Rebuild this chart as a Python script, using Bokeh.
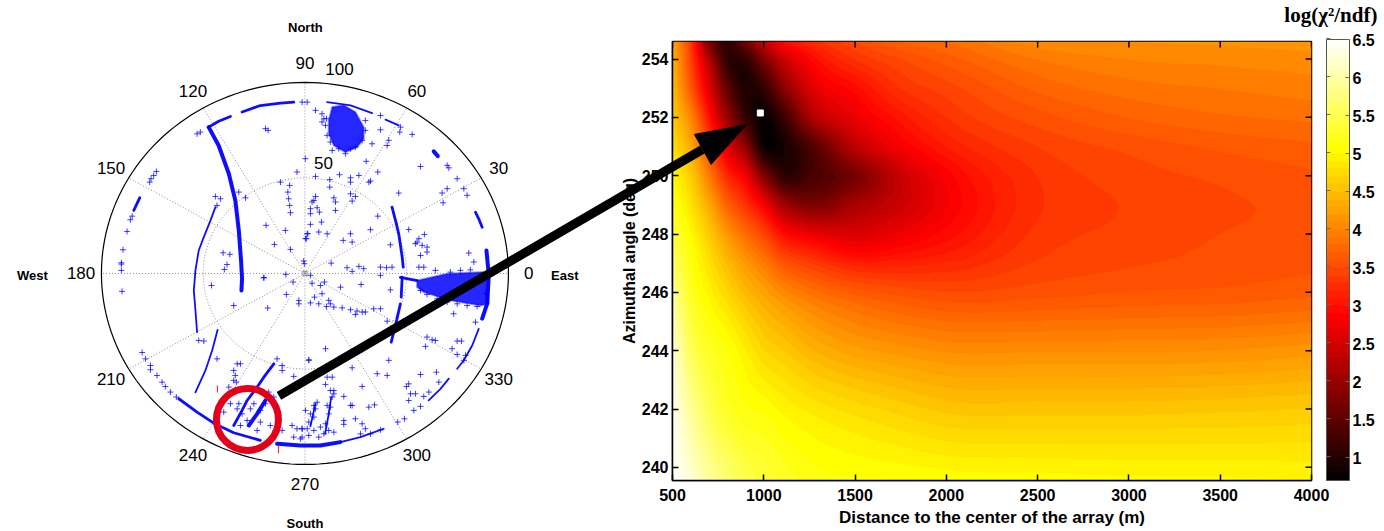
import numpy as np
from bokeh.embed import file_html
from bokeh.resources import INLINE
from bokeh.layouts import row
from bokeh.plotting import figure
from bokeh.core.properties import value
from bokeh.models import (Arrow, ColorBar, FixedTicker, LinearColorMapper,
                          NumeralTickFormatter, Range1d)

# ---- polar panel: event directions, east / north components ----
arc_upper_left = [(-47.3,76.6),(-42.4,67.0),(-37.4,52.2),(-34.2,38.2),(-32.5,22.5),(-31.4,6.8),(-30.9,-2.6),(-31.2,-8.9)]
arc_top_left_a = [(-30.9,84.5),(-21.9,87.9),(-12.0,89.2),(-5.5,89.7)]
arc_top_left_b = [(-47.3,76.6),(-42.4,79.7),(-36.6,82.2)]
arc_top_right_a = [(10.9,89.7),(22.4,88.0),(33.0,83.9)]
arc_top_right_b = [(39.6,80.5),(46.1,77.5)]
arc_top_right_c = [(63.3,63.9),(65.3,61.4)]
arc_right_a = [(83.8,32.1),(85.4,28.6),(87.1,24.2)]
arc_right_b = [(89.2,12.0),(90.3,-0.2),(90.3,-1.9),(89.5,-15.9),(87.1,-23.7)]
arc_right_c = [(85.4,-29.0),(82.2,-37.7),(78.0,-45.6),(74.8,-49.9)]
arc_right_d = [(70.7,-55.1),(66.6,-60.4),(60.8,-66.5)]
arc_bottom = [(-13.7,-89.2),(-2.2,-90.1),(7.6,-90.1),(17.4,-88.3)]
arc_bottom_thin = [(17.4,-88.3),(27.3,-85.7),(38.7,-81.3)]
arc_lower_left = [(-62.0,-65.6),(-53.0,-72.6),(-44.8,-78.4),(-35.0,-83.4),(-21.9,-87.4)]
arc_mid_left = [(-44.0,34.7),(-46.4,27.8),(-49.7,19.0),(-52.2,12.0),(-53.8,1.6),(-54.6,-8.9),(-53.8,-19.4),(-53.0,-30.7)]
arc_low_left = [(-42.9,-29.5),(-45.6,-40.3),(-48.9,-50.8),(-53.8,-62.2)]
arc_circle_a = [(-15.3,-47.3),(-20.2,-54.3),(-23.5,-59.5),(-28.4,-66.5),(-30.9,-71.7),(-35.0,-79.6)]
arc_circle_b = [(-19.4,-66.5),(-23.5,-73.5),(-27.6,-79.6)]
arc_mid_right_a = [(42.8,34.7),(44.5,27.8),(46.1,20.8),(47.8,8.5),(48.3,3.3)]
arc_mid_right_b = [(47.8,-1.9),(47.3,-12.4)]
arc_mid_right_c = [(46.9,-15.9),(44.5,-27.2),(42.4,-36.0)]
arc_far_left = [(-81.2,39.6),(-84.1,33.0)]
arc_bottom_b1 = [(12.9,-64.7),(11.7,-73.5),(9.9,-84.0)]
arc_bottom_b2 = [(5.2,-68.0),(2.7,-80.0)]
arc_east_tail = [(46.9,-2.1),(55.1,-3.7)]
arcs_thick = [arc_upper_left, arc_right_b, arc_circle_b, arc_top_right_c, arc_bottom]
arcs_medium = [arc_top_left_a, arc_top_left_b, arc_lower_left, arc_mid_right_a, arc_mid_right_b,
               arc_mid_right_c, arc_circle_a, arc_far_left, arc_east_tail, arc_right_a]
arcs_thin = [arc_top_right_a, arc_top_right_b, arc_right_c, arc_right_d, arc_bottom_thin,
             arc_mid_left, arc_low_left, arc_bottom_b1, arc_bottom_b2]

blob_top = [(13.4,87.1),(19.1,88.0),(24.8,84.5),(28.9,76.6),(28.9,70.5),(25.7,66.1),(19.9,63.5),(14.2,67.0),(11.7,73.1),(11.7,80.1)]
blob_east = [(55.1,-3.7),(69.9,-0.2),(87.9,0.7),(90.3,-1.9),(90.3,-15.9),(86.2,-16.8),(71.5,-14.1),(58.4,-9.8),(55.1,-7.2)]

events_nw = [(-53.0,73.1),(-51.4,74.0),(-19.4,75.8),(-18.1,74.9),(0.2,60.1),(-3.9,53.1),(-12.0,47.8),(-7.5,46.1),(-8.4,42.6),(-8.0,39.1),
             (-7.5,35.6),(-7.1,31.8),(-19.1,25.2),(-9.6,22.5),(-15.0,15.2),(-7.1,12.6),(-0.3,5.1),(1.1,20.8),(0.7,18.2),(-32.5,42.6),
             (-29.2,39.6),(-44.0,40.3),(-41.5,39.1),(-43.2,35.6),(-40.2,10.8),(-36.9,10.0),(-38.3,4.7),(-39.6,2.1),(-20.2,-2.2),(-9.4,-0.5),
             (-73.0,53.4),(-74.3,51.3),(-75.6,49.6),(-76.3,47.8),(-84.9,30.0),(-85.8,28.1),(-87.4,22.0),(-89.4,12.4),(-90.2,5.6),(-90.2,4.9),(-90.2,1.6),(-1.4,89.7),(1.1,89.7)]
events_ne = [(5.2,85.4),(8.4,83.6),(9.3,81.0),(8.4,79.3),(37.1,82.7),(37.1,75.2),(47.0,76.6),(46.6,74.0),(52.7,72.8),(33.0,67.9),
             (41.2,69.7),(40.4,67.0),(30.1,58.7),(56.8,56.0),(69.9,56.6),(70.7,55.3),(74.8,49.6),(78.1,44.4),(69.9,44.4),(67.4,42.1),
             (79.7,40.9),(67.9,37.0),(35.8,53.1),(31.4,47.8),(32.2,48.4),(26.5,51.3),(17.0,51.7),(22.4,50.1),(22.4,47.8),(12.2,49.1),
             (12.2,45.2),(5.2,50.8),(22.4,41.7),(24.8,40.3),(14.2,39.6),(15.0,37.4),(23.2,37.9),(5.2,40.3),(4.4,38.2),(3.5,37.4),
             (15.0,33.0),(2.7,33.9),(2.7,31.3),(6.0,34.4),(7.1,32.1),(2.7,25.7),(8.1,26.9),(46.1,42.1),(35.8,30.0),(1.4,20.8),
             (0.3,18.2),(6.8,21.7),(10.9,20.8),(22.4,20.8),(18.8,17.3),(23.2,16.4),(32.2,22.9),(42.0,15.0),(51.0,23.0),(58.7,20.4),
             (55.1,16.4),(56.0,18.2),(57.6,14.7),(60.0,13.8),(60.0,11.2),(56.8,9.4),(54.3,15.6),(80.5,10.7),(83.0,6.0),(12.9,5.4),
             (-0.6,6.5),(26.5,3.7),(28.9,2.5),(20.7,3.0),(23.2,1.1),(37.1,3.3),(40.1,3.0),(42.8,3.3),(56.0,3.3),(58.4,3.3),(64.1,1.6)]
events_fringe = [(13.4,64.4),(16.6,65.3),(19.9,62.7),(22.4,65.3),(24.8,66.2),(28.1,69.7),(29.7,74.9),(29.7,80.1),(12.5,68.8),(10.9,72.3),
                 (10.1,77.5),(10.6,81.0),(56.8,-8.9),(60.0,-11.0),(65.0,-13.3),(69.9,-15.0),(74.8,-15.9),(79.7,-16.8),(84.6,-17.3),(88.7,-10.6),
                 (71.5,0.7),(76.4,1.6),(81.3,1.9)]
events_sw = [(-89.9,-9.4),(-45.9,-6.3),(-35.0,-16.8),(-18.3,-18.1),(-20.2,-2.3),(-5.8,-4.5),(-9.1,-11.0),(-3.0,-14.1),(-3.0,-15.9),(-52.2,-35.1),
             (-49.7,-35.4),(-43.2,-44.7),(-80.0,-41.4),(-75.9,-50.4),(-33.3,-47.3),(-31.7,-47.3),(-35.0,-50.8),(-34.2,-53.4),(-35.0,-56.0),(-33.7,-56.9),
             (-37.4,-59.5),(-13.7,-44.7),(-11.2,-48.2),(-11.2,-50.8),(-5.5,-53.9),(1.9,-45.2),(-17.8,-62.1),(-15.3,-64.7),(-36.6,-68.2),(-32.5,-68.2),
             (-33.3,-70.9),(-30.9,-73.5),(-39.9,-72.6),(-28.4,-77.0),(-31.7,-79.6),(-21.9,-77.8),(-17.0,-79.6),(-23.5,-82.2),(-14.5,-82.2),(-11.2,-82.2),
             (-6.3,-79.6),(-3.9,-81.3),(-1.4,-81.3),(-5.5,-85.7),(-2.2,-86.6),(-25.1,-68.2),(-26.8,-70.9),(-19.4,-68.2),(-21.9,-71.7),
             (-78.4,-44.7),(-75.9,-48.2),(-72.7,-53.4),(-70.2,-56.9),(-68.6,-59.2),(-66.1,-62.1),(-63.2,-64.7)]
events_se = [(2.7,-1.0),(3.5,-5.1),(9.6,-4.5),(7.6,-6.3),(8.4,-10.6),(4.7,-12.4),(2.7,-15.4),(6.8,-15.9),(11.7,-14.1),(12.5,-15.9),
             (10.6,-17.3),(14.2,-17.6),(17.5,-7.2),(27.6,-5.8),(37.1,-1.0),(42.0,-8.6),(18.3,-18.0),(22.4,-19.0),(25.6,-19.7),(24.8,-21.5),
             (28.1,-20.2),(29.7,-20.2),(33.8,-18.5),(37.1,-18.5),(40.4,-25.0),(60.0,-33.3),(62.5,-34.7),(64.1,-35.1),(59.2,-38.2),(74.8,-35.4),
             (76.9,-35.4),(72.3,-39.4),(74.8,-42.4),(78.9,-42.9),(78.1,-45.5),(83.8,-25.5),(73.1,-21.1),(10.1,-39.4),(1.9,-45.5),(41.2,-45.5),
             (23.2,-49.4),(35.5,-52.5),(40.4,-53.4),(64.6,-51.7),(56.8,-52.9),(51.0,-57.8),(49.9,-59.2),(28.1,-59.2),(65.8,-56.9),(60.9,-62.1),
             (58.4,-64.4),(54.3,-63.0),(51.9,-63.0),(51.0,-66.5),(56.8,-69.6),(53.5,-71.7),(48.9,-76.1),(45.6,-77.8),(31.4,-70.0),(34.2,-68.8),
             (28.1,-78.7),(29.7,-81.3),(19.1,-64.4),(22.4,-69.1),(23.2,-69.1),(19.1,-77.0),(19.1,-79.0),(24.8,-76.1),(14.2,-61.3),(12.5,-61.3),
             (10.1,-58.1),(13.4,-54.3),(10.9,-54.3),(32.2,-84.0),(37.1,-81.9),(27.3,-84.0),(4.4,-69.1),(6.0,-67.4),(5.2,-70.9),(2.7,-73.5),
             (0.3,-71.7),(4.4,-75.2),(1.9,-77.8),(1.1,-81.3),(4.4,-82.2),(7.6,-80.4),(9.3,-83.9),(-1.4,-81.3),(-1.4,-85.7),(11.7,-73.5),
             (12.5,-70.0),(13.4,-64.7),(14.2,-63.0),(10.9,-69.1),(11.7,-82.2),(14.2,-83.1),(10.1,-78.7),(6.8,-85.7),(1.9,-84.8)]

azimuth_ticks = [0, 30, 60, 90, 120, 150, 180, 210, 240, 270, 300, 330]
radial_rings = [50, 100]
radial_labels = [("50", 9.1, 57.6), ("100", 17.0, 106.8)]
compass_labels = [("North", 0.2, 128.8), ("South", 0.0, -131.0), ("East", 127.7, -1.0), ("West", -133.9, -1.0)]
red_circle_centre = (-28.25, -76.4)
red_marks = [((-43.0, -58.6), (-43.0, -62.3)), ((-13.0, -90.0), (-13.0, -94.2))]

# ---- chi-square map: log(chi2/ndf) ----
distance_m = [500, 600, 700, 800, 900, 1000, 1100, 1250, 1500, 1750, 2000, 2500, 3000, 3500, 4000]
azimuth_deg = [254.6, 254, 253, 252, 251, 250, 249, 248, 246, 244, 242, 239.55]
log_chi2 = [
    [4.30, 4.40, 4.50, 4.60, 4.80, 5.00, 5.20, 5.40, 5.85, 6.25, 6.40, 6.50],
    [3.30, 3.40, 3.60, 4.00, 4.30, 4.60, 4.80, 5.00, 5.25, 5.55, 5.90, 6.25],
    [1.70, 2.20, 2.60, 3.00, 3.50, 3.90, 4.30, 4.60, 4.95, 5.25, 5.50, 5.95],
    [1.10, 1.10, 1.50, 2.00, 2.60, 3.20, 3.70, 4.15, 4.70, 5.10, 5.25, 5.70],
    [1.70, 1.15, 0.95, 1.15, 1.90, 2.75, 3.30, 3.80, 4.45, 4.90, 5.12, 5.50],
    [2.40, 1.80, 1.15, 0.78, 0.82, 1.80, 2.80, 3.45, 4.25, 4.70, 5.07, 5.38],
    [2.90, 2.40, 1.80, 1.15, 0.88, 1.15, 2.15, 3.00, 4.05, 4.60, 4.97, 5.28],
    [3.20, 2.90, 2.55, 2.10, 1.35, 1.30, 1.80, 2.75, 3.85, 4.42, 4.87, 5.17],
    [3.50, 3.30, 2.95, 2.70, 2.30, 1.72, 2.15, 2.58, 3.65, 4.24, 4.75, 5.12],
    [3.70, 3.50, 3.30, 3.05, 2.80, 2.42, 2.45, 2.75, 3.55, 4.15, 4.65, 5.10],
    [3.80, 3.65, 3.45, 3.30, 3.10, 2.85, 2.80, 2.95, 3.50, 4.08, 4.56, 5.07],
    [4.05, 3.90, 3.72, 3.55, 3.40, 3.30, 3.28, 3.33, 3.55, 4.08, 4.55, 5.05],
    [4.10, 4.00, 3.85, 3.70, 3.53, 3.45, 3.41, 3.43, 3.60, 4.08, 4.55, 5.03],
    [4.12, 4.03, 3.90, 3.78, 3.62, 3.52, 3.48, 3.50, 3.62, 4.10, 4.57, 5.02],
    [4.15, 4.06, 3.95, 3.82, 3.68, 3.58, 3.53, 3.54, 3.67, 4.15, 4.60, 5.00],
]
best_fit = (981, 252.15)
x_ticks = [500, 1000, 1500, 2000, 2500, 3000, 3500, 4000]
y_ticks = [240, 242, 244, 246, 248, 250, 252, 254]
cbar_ticks = [1, 1.5, 2, 2.5, 3, 3.5, 4, 4.5, 5, 5.5, 6, 6.5]
cbar_low, cbar_high = 0.7, 6.5
x_title = "Distance to the center of the array (m)"
y_title = "Azimuthal angle (deg)"
cbar_title = "log(\u03c7\u00b2/ndf)"

PAGE_W = 1384
PAGE_H = 531
HEAT_LEFT = 598
HEAT_W = PAGE_W - HEAT_LEFT
SANS = "Liberation Sans"

# -------- polar panel: transparent overlay spanning the page, so the arrow can cross into the map --------
pol = figure(width=PAGE_W, height=PAGE_H, x_range=Range1d(-149.6, 530.5), y_range=Range1d(-135.1, 142.9),
             output_backend="svg", toolbar_location=None, min_border=0, outline_line_color=None,
             background_fill_color=None, border_fill_color=None, frame_align=False, margin=(0, 0, 0, -PAGE_W))
pol.axis.visible = False
pol.grid.visible = False

t = np.radians(np.arange(0, 361, 2))
for a in azimuth_ticks:
    pol.line([0, 100 * np.cos(np.radians(a))], [0, 100 * np.sin(np.radians(a))],
             line_color="#8c8c8c", line_width=1, line_dash="1 2")
pol.line(radial_rings[0] * np.cos(t), radial_rings[0] * np.sin(t), line_color="#8c8c8c", line_width=1, line_dash="1 2")
pol.line(radial_rings[1] * np.cos(t), radial_rings[1] * np.sin(t), line_color="black", line_width=1.2)
pol.scatter([0], [0], marker="square", size=4, fill_color=None, line_color="#8c8c8c", line_width=1)

BLUE = "#0000ff"
for blob in (blob_top, blob_east):
    pol.patch([q[0] for q in blob], [q[1] for q in blob], fill_color=BLUE, fill_alpha=0.85, line_color=BLUE, line_alpha=0.4, line_width=2)
for group, w in ((arcs_thick, 4.0), (arcs_medium, 2.8), (arcs_thin, 1.8)):
    for arc in group:
        pol.line([q[0] for q in arc], [q[1] for q in arc], line_color=BLUE, line_width=w, line_alpha=0.95, line_cap="round", line_join="round")
for group in (events_nw, events_ne, events_fringe, events_sw, events_se):
    pol.scatter([q[0] for q in group], [q[1] for q in group], marker="cross", size=6, line_color=BLUE, line_width=1, line_alpha=0.75)

for (s, e) in red_marks:
    pol.segment([s[0]], [s[1]], [e[0]], [e[1]], line_color="#ff3030", line_width=1.2)
pol.scatter([red_circle_centre[0]], [red_circle_centre[1]], marker="circle", size=62, fill_color=None, line_color="#e3001b", line_width=7)

pol.text([110 * np.cos(np.radians(a)) for a in azimuth_ticks], [110 * np.sin(np.radians(a)) for a in azimuth_ticks],
         text=[str(a) for a in azimuth_ticks], text_font=value(SANS), text_font_size="17px", text_color="black",
         text_align="center", text_baseline="middle")
pol.text([q[1] for q in radial_labels], [q[2] for q in radial_labels], text=[q[0] for q in radial_labels],
         text_font=value(SANS), text_font_size="17px", text_color="black", text_align="center", text_baseline="middle")
pol.text([q[1] for q in compass_labels], [q[2] for q in compass_labels], text=[q[0] for q in compass_labels],
         text_font=value(SANS), text_font_style="bold", text_font_size="13px", text_color="black",
         text_align="center", text_baseline="middle")

# arrow from the red circle to the best fit
pol.add_layout(Arrow(end=None, x_start=-12.8, y_start=-64.1, x_end=195.3, y_end=64.9, line_color="black", line_width=9))
pol.patch([217.0, 191.4, 199.6], [77.9, 72.8, 57.1], fill_color="black", line_color="black")

# colour-bar title and left ticks, in the overlay's coordinates
pol.text([527.0], [135.1], text=[cbar_title], text_font=value("Liberation Serif"), text_font_style="bold",
         text_font_size="21px", text_color="black", text_align="right", text_baseline="middle")
tick_n = [(273 - (38 + (cbar_high - v) * 441 / (cbar_high - cbar_low))) / 1.91 for v in cbar_ticks]
pol.segment([501.9] * len(tick_n), tick_n, [503.9] * len(tick_n), tick_n, line_color="#666666", line_width=1)

# -------- chi-square map --------
def hermite(vals, knots, fine, axis):
    vals = np.moveaxis(np.asarray(vals, float), axis, 0)
    knots = np.asarray(knots, float)
    if knots[0] > knots[-1]:
        knots, vals = knots[::-1], vals[::-1]
    slopes = np.gradient(vals, knots, axis=0)
    i = np.clip(np.searchsorted(knots, fine) - 1, 0, len(knots) - 2)
    h = knots[i + 1] - knots[i]
    u = (fine - knots[i]) / h
    shape = (-1,) + (1,) * (vals.ndim - 1)
    u, hh = u.reshape(shape), h.reshape(shape)
    out = ((2*u**3 - 3*u**2 + 1) * vals[i] + (u**3 - 2*u**2 + u) * hh * slopes[i]
           + (-2*u**3 + 3*u**2) * vals[i + 1] + (u**3 - u**2) * hh * slopes[i + 1])
    return np.moveaxis(out, 0, axis)

x_lo, x_hi = distance_m[0], distance_m[-1]
y_lo, y_hi = azimuth_deg[-1], azimuth_deg[0]
fine_x = np.linspace(x_lo, x_hi, 640)
fine_y = np.linspace(y_lo, y_hi, 440)
field = hermite(hermite(log_chi2, distance_m, fine_x, 0), azimuth_deg, fine_y, 1).T

def hot(n):
    cols = []
    for k in range(n):
        f = (k + 0.5) / n
        r, g, b = min(1, f / 0.375), np.clip((f - 0.375) / 0.375, 0, 1), np.clip((f - 0.75) / 0.25, 0, 1)
        cols.append("#%02x%02x%02x" % (int(r * 255), int(g * 255), int(b * 255)))
    return cols

mapper = LinearColorMapper(palette=hot(58), low=cbar_low, high=cbar_high)

heat = figure(width=HEAT_W, height=PAGE_H, x_range=Range1d(x_lo, x_hi), y_range=Range1d(y_lo, y_hi),
              frame_width=639, frame_height=439, min_border_left=74, min_border_top=41, min_border_right=73,
              min_border_bottom=PAGE_H - 41 - 439, output_backend="svg", toolbar_location=None,
              outline_line_color="black", outline_line_width=1.5, background_fill_color="white", border_fill_color=None,
              frame_align=False, margin=(0, 0, 0, HEAT_LEFT))
heat.grid.visible = False
heat.image(image=[field], x=x_lo, y=y_lo, dw=x_hi - x_lo, dh=y_hi - y_lo, color_mapper=mapper)
heat.scatter([best_fit[0]], [best_fit[1]], marker="square", size=6, fill_color="white", line_color="white")

def style_axis(ax, ticks):
    ax.ticker = FixedTicker(ticks=ticks)
    ax.major_tick_in = 6
    ax.major_tick_out = 0
    ax.minor_tick_in = 0
    ax.minor_tick_out = 0
    ax.axis_line_color = "black"
    ax.axis_line_width = 1.5
    ax.major_tick_line_color = "black"
    ax.major_tick_line_width = 1.5
    ax.major_label_text_font = SANS
    ax.major_label_text_font_style = "bold"
    ax.major_label_text_font_size = "16px"
    ax.major_label_text_color = "black"
    ax.major_label_standoff = 4
    ax.axis_label_text_font = SANS
    ax.axis_label_text_font_style = "bold"
    ax.axis_label_text_color = "black"

style_axis(heat.xaxis[0], x_ticks)
style_axis(heat.yaxis[0], y_ticks)
heat.xaxis[0].axis_label = x_title
heat.yaxis[0].axis_label = y_title
heat.xaxis[0].axis_label_text_font_size = "17px"
heat.yaxis[0].axis_label_text_font_size = "16px"
heat.xaxis[0].major_label_standoff = 8
heat.xaxis[0].axis_label_standoff = 4
heat.yaxis[0].axis_label_standoff = 1

# mirrored inner ticks on the top and right edges
heat.scatter([x_hi] * len(y_ticks), y_ticks, marker="dash", size=12, line_color="black", line_width=1.5)
heat.scatter(x_ticks, [y_hi] * len(x_ticks), marker="dash", size=12, angle=np.pi / 2, line_color="black", line_width=1.5)

cbar = ColorBar(color_mapper=mapper, ticker=FixedTicker(ticks=cbar_ticks), formatter=NumeralTickFormatter(format="0.[0]"),
                location=(654, 0), width=23, height=441, padding=0, margin=0, bar_line_color="#555555", bar_line_width=1,
                major_tick_in=4, major_tick_out=0, major_tick_line_color="#666666", minor_tick_line_color=None,
                major_label_text_font=SANS, major_label_text_font_style="bold", major_label_text_font_size="16px",
                major_label_text_color="black", label_standoff=3, background_fill_color=None, border_line_color=None)
heat.add_layout(cbar)

page = row(heat, pol, spacing=0)
open("out.html", "w").write(file_html(page, INLINE))
